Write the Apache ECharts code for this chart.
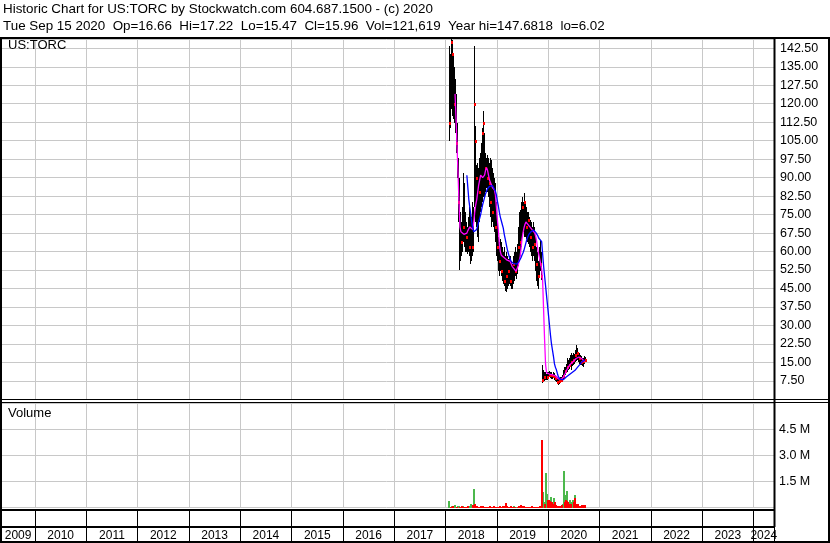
<!DOCTYPE html>
<html>
<head>
<meta charset="utf-8">
<script src="https://cdn.jsdelivr.net/npm/echarts@6/dist/echarts.min.js"></script>
<style>
html,body{margin:0;padding:0;background:#fff;}
#chart{width:830px;height:543px;}
</style>
</head>
<body>
<div id="chart"></div>
<script>
// ---------------- DATA ----------------
const headerLine1 = 'Historic Chart for US:TORC by Stockwatch.com 604.687.1500 - (c) 2020';
const headerLine2 = 'Tue Sep 15 2020  Op=16.66  Hi=17.22  Lo=15.47  Cl=15.96  Vol=121,619  Year hi=147.6818  lo=6.02';
const symbolLabel = 'US:TORC';
const volumeLabel = 'Volume';

// weekly bars, first week ending 2018-01-26
const firstWeek = '2018-01-26';

const weeklyHigh = [
  143.4,140,147.7,146,140,135,130,124,112,98,
  90,76,72,78,92,88,76,72,70,74,
  78,76,74,80,78,143.5,111,95,96,94,
  98,100,104,110,117,108,100,98,99,98,
  95,96,98,97,94,92,90,88,80,72,
  66,64,65,64,62,60,62,58,60,58,
  57,58,58,56,55,58,60,62,60,63,
  70,76,77,80,82,80,83.6,80,78,76,
  76,74,73,72,70,72,70,66,62,60,
  56,62,64.7,60,14,12,11,11,10.5,11.2,
  11,11.5,11,11.2,10.8,10.5,11,10.6,10,9.5,
  9,8.8,8.6,9,9.2,10,12,13.3,13,14.5,
  16.8,16,17,18,18.7,18,19,18.5,20,22,
  21,19,18.7,18,17.5,17,16.7,17.5,17.22
];
const weeklyLow = [
  105,110,118,115,114,112,108,100,90,72,
  52.5,56,58,60,64,62,60,60,59,60,
  58,55,56,58,60,78,72,70,66,64,
  72,76,78,80,82,82,84,86,84,82,
  80,78,74,70,72,70,68,64,58,56,
  52,50,52,50,48,47,46,44,43.5,45,
  46,47,46,45,45,47,48,50,49,51,
  54,56,58,62,66,68,66,66,65,64,
  63,62,60,58,56,58,56,52,48,46,
  45,50,52,48.5,6.8,7,7.5,8,7.8,8,
  8.5,9,8.6,8.8,8.4,8.2,8.5,8,7.5,7,
  6.5,6.02,6.2,6.5,7,7.5,8,9,10,10.6,
  11,12,12.5,13,12,13.5,14,14.5,15,15.5,
  16,15,14.5,14,14,13.5,13.3,14.5,15.47
];
// red close ticks (week index, price)
const closeMarkWeeks = [0,2,3,5,7,9,12,14,17,20,23,25,26,27,30,33,34,36,38,40,42,44,47,49,51,53,56,58,60,62,65,67,70,72,74,76,78,80,82,84,86,88,90,92,93,94,96,99,101,104,106,108,110,112,114,116,118,120,122,124,126,128,130,132,134,136,138];
const closeMarkValues = [112,145,140,120,104,80,64,70,66,62,62,120,105,90,84,108,112,94,90,88,80,76,70,62,56,52,48,50,52,48,55,52,62,64,78,80,70,73,66,62,63,55,50,55,50,8,9,9,10,10,9.5,8.5,7,7.5,8,9.5,11.5,13,14,15,16,18,19,17,15,15.5,15.96];

// short moving average (pink), starts at week 6
const maShort = [
  null,null,null,null,null,null,124,114,103,92,
  80,70,68,67.5,67.5,67,66.5,66.5,67.5,68.5,
  69,70,70,69.5,69,72,76,79,81,84,
  87,89,91,91,90,90,91,93,94,93,
  91,89,88,87,86,85.5,85,83,78,73,
  69,63,60,58.5,58,58,57.5,57,57,56.5,
  56.5,56.5,56,55,54,53.5,53,52.5,52,52.5,
  54,56,57.5,61,65,67.5,69.5,71,72,71.5,
  71,70.5,70,69.5,69,69,68.5,67.5,66,64,
  61,59,57,55,53,48,36,24,14,10.8,
  10.8,10.5,10.3,10.2,10.2,10,10,9.8,9.6,9.3,
  8.8,8.3,7.9,7.9,8.1,8.5,9,9.8,10.5,11.5,
  12.3,13,13.6,14.2,14.6,15,15.3,15.7,16.1,16.6,
  17,17.2,17.2,17,16.8,16.5,16,15.6,15.5
];
// long moving average (blue), starts at week 18
const maLong = [
  null,null,null,null,null,null,null,null,null,null,
  null,null,null,null,null,null,null,null,91,86,
  81,78,75,72,69.5,68,67.5,68,69,70.5,
  72,73.5,75,77,79,80.5,82,83.5,84.5,85.5,
  86,86.5,87,87,86.8,86.5,86,84.5,83,80.5,
  78.5,76,74,72.5,71,69.5,67,65,63,61,
  59.5,58,57,56,55.5,55.2,55,54.8,54.8,55,
  55.5,56,56.6,57.5,58.5,59.4,60.5,62,63.5,65,
  66,67,67.5,68,68.5,68.7,68.7,68.3,67.8,67.3,
  66.5,65.5,65,64.7,64,59,54,50,46,42,
  38,34,30,26,22.5,20,17.5,14.5,13,12,
  10.5,9.2,8.5,8.1,7.9,7.9,8,8.3,8.7,9.1,
  9.4,9.7,10,10.3,10.6,10.9,11.2,11.5,11.8,12.3,
  12.8,13.2,13.6,14.2,14.8,15.2,15.5,15.8,16
];
// weekly volume in millions: up days (green) and down days (red)
const volumeUp = [
  0.40,0.05,0,0.06,0,0.04,0.12,0.05,0,0.06,
  0.08,0,0.05,0,0.06,0,0.04,0,0.05,0,
  0.04,0.07,0.23,0.10,0,1.08,0,0.06,0,0.05,
  0,0.05,0,0.04,0,0,0.05,0,0,0.04,
  0,0.05,0,0,0.04,0,0,0.05,0,0,
  0.04,0,0,0.05,0,0,0.04,0,0,0,
  0,0.04,0,0,0.05,0,0.06,0,0.05,0.04,
  0,0,0.05,0,0,0.08,0,0.05,0,0,
  0.05,0,0,0.05,0,0,0.04,0,0,0.05,
  0,0.05,0,0,0,0.90,0.30,0,2.00,0.80,
  0,0,0,0.30,0.62,0,0.20,0.55,0,0,
  0,0.06,0,0,0.08,0,0.20,2.10,0.70,0.30,
  0.97,0,0.20,0.42,0,0.30,0.45,0,0.71,0,
  0.23,0,0.10,0,0,0,0,0,0
];
const volumeDown = [
  0,0,0.05,0,0.06,0,0,0,0.05,0,
  0,0.05,0,0.06,0,0.05,0,0.05,0,0.06,
  0,0,0,0,0.12,0,0.19,0,0.06,0,
  0.05,0,0.10,0,0.06,0.05,0,0.05,0.05,0,
  0.05,0,0.06,0.05,0,0.05,0.08,0,0.05,0.05,
  0,0.05,0.06,0,0.05,0.06,0,0.10,0.28,0.10,
  0.05,0,0.05,0.06,0,0.05,0,0.05,0,0,
  0.05,0.06,0,0.17,0.08,0,0.06,0,0.05,0.05,
  0,0.05,0.05,0,0.06,0.05,0,0.05,0.05,0,
  0.05,0,0.06,0.08,3.90,0,0,0.20,0,0,
  0.46,0.46,0.35,0,0,0.29,0,0.22,0.29,0.15,
  0.10,0,0.10,0.10,0,0.12,0,0,0.33,0.46,
  0.40,0.30,0,0.23,0.20,0,0,0.30,0.52,0.20,
  0,0.21,0,0.10,0.08,0.17,0.17,0.12,0.12
];

// axes
const xStartYear = 2009;
const xEndYear = 2024.40;
const yearLabelPositions = [2009.67,2010.5,2011.5,2012.5,2013.5,2014.5,2015.5,2016.5,2017.5,2018.5,2019.5,2020.5,2021.5,2022.5,2023.5,2024.2];
const priceMax = 146.27;
const priceStep = 7.5;
const volumeMax = 6.03;   // millions
const volumeStep = 1.5;

// ---------------- BUILD ----------------
function decYear(ms) {
  const d = new Date(ms);
  const y = d.getUTCFullYear();
  const s = Date.UTC(y, 0, 1), e = Date.UTC(y + 1, 0, 1);
  return y + (ms - s) / (e - s);
}
const t0 = Date.parse(firstWeek + 'T12:00:00Z');
const weekX = weeklyHigh.map((_, i) => decYear(t0 + i * 7 * 86400000));

const barData = weekX.map((x, i) => [x, weeklyLow[i], weeklyHigh[i]]);
const closeData = closeMarkWeeks.map((w, k) => [weekX[w], closeMarkValues[k]]);
const maShortData = [], maLongData = [];
weekX.forEach((x, i) => {
  if (maShort[i] != null) maShortData.push([x, maShort[i]]);
  if (maLong[i] != null) maLongData.push([x, maLong[i]]);
});
const volUpData = weekX.map((x, i) => [x, volumeUp[i]]).filter(d => d[1] > 0);
const volDownData = weekX.map((x, i) => [x, volumeDown[i]]).filter(d => d[1] > 0);

const FONT = "'Liberation Sans', Arial, sans-serif";
const GRIDC = '#c8c8c8';
const PLOT_LEFT = -16.32, PLOT_W = 790.32;

function xAxisFor(gridIndex, splitColor, extra) {
  return Object.assign({
    type: 'value', gridIndex, min: xStartYear, max: xEndYear, interval: 1,
    axisLine: {show: false}, axisTick: {show: false}, axisLabel: {show: false},
    splitLine: {show: true, lineStyle: {color: splitColor, width: 1}}
  }, extra || {});
}
function gridAt(top, height) {
  return {left: PLOT_LEFT, width: PLOT_W, top, height, containLabel: false, outerBoundsMode: 'none'};
}

const chart = echarts.init(document.getElementById('chart'), null, {renderer: 'canvas'});
chart.setOption({
  animation: false,
  backgroundColor: '#fff',
  title: [
    {text: headerLine1, left: 3, top: 3, padding: 0, textStyle: {fontFamily: FONT, fontSize: 13.4, fontWeight: 'normal', color: '#000'}},
    {text: headerLine2, left: 3, top: 20, padding: 0, textStyle: {fontFamily: FONT, fontSize: 13.4, fontWeight: 'normal', color: '#000'}},
    {text: symbolLabel, left: 8, top: 39, padding: 0, textStyle: {fontFamily: FONT, fontSize: 13, fontWeight: 'normal', color: '#000'}},
    {text: volumeLabel, left: 8, top: 407, padding: 0, textStyle: {fontFamily: FONT, fontSize: 13, fontWeight: 'normal', color: '#000'}}
  ],
  grid: [
    gridAt(39, 360.4),
    gridAt(403, 104.5),
    gridAt(511, 16),
    gridAt(528, 14)
  ],
  xAxis: [
    xAxisFor(0, GRIDC),
    xAxisFor(1, GRIDC),
    xAxisFor(2, '#000'),
    xAxisFor(3, '#000', {
      position: 'top',
      axisLabel: {
        show: true, inside: true, margin: 7.5, verticalAlign: 'middle',
        customValues: yearLabelPositions,
        formatter: v => String(Math.floor(v)),
        fontFamily: FONT, fontSize: 12, color: '#000'
      }
    })
  ],
  yAxis: [
    {
      type: 'value', gridIndex: 0, position: 'right', min: 0, max: priceMax, interval: priceStep,
      axisLine: {show: false}, axisTick: {show: false},
      splitLine: {show: true, lineStyle: {color: GRIDC}},
      axisLabel: {
        show: true, margin: 6, showMinLabel: false, showMaxLabel: false,
        fontFamily: FONT, fontSize: 12.5, color: '#000',
        formatter: v => (v <= 0 || v > priceMax - 1) ? '' : v.toFixed(2)
      }
    },
    {
      type: 'value', gridIndex: 1, position: 'right', min: 0, max: volumeMax, interval: volumeStep,
      axisLine: {show: false}, axisTick: {show: false},
      splitLine: {show: true, lineStyle: {color: GRIDC}},
      axisLabel: {
        show: true, margin: 5, showMinLabel: false, showMaxLabel: false,
        fontFamily: FONT, fontSize: 12.5, color: '#000',
        formatter: v => (v <= 0 || v > volumeMax - 0.5) ? '' : v.toFixed(1) + ' M'
      }
    },
    {type: 'value', gridIndex: 2, show: false, splitLine: {show: false}},
    {type: 'value', gridIndex: 3, show: false, splitLine: {show: false}}
  ],
  series: [
    {
      type: 'custom', xAxisIndex: 0, yAxisIndex: 0, data: barData,
      encode: {x: 0, y: [1, 2]}, clip: true,
      renderItem: (params, api) => {
        const top = api.coord([api.value(0), api.value(2)]);
        const bot = api.coord([api.value(0), api.value(1)]);
        const px = Math.round(top[0]);
        const y1 = Math.round(top[1]), y2 = Math.round(bot[1]);
        return {type: 'rect', shape: {x: px, y: y1, width: 1, height: Math.max(1, y2 - y1)}, style: {fill: '#000'}};
      }
    },
    {
      type: 'custom', xAxisIndex: 0, yAxisIndex: 0, data: closeData,
      encode: {x: 0, y: 1},
      renderItem: (params, api) => {
        const p = api.coord([api.value(0), api.value(1)]);
        return {type: 'rect', shape: {x: Math.round(p[0]), y: Math.round(p[1]) - 1, width: 2, height: 3}, style: {fill: '#ff0000'}};
      }
    },
    {
      type: 'line', xAxisIndex: 0, yAxisIndex: 0, data: maShortData,
      showSymbol: false, symbol: 'none', lineStyle: {color: '#ff00ff', width: 1.3}, z: 3
    },
    {
      type: 'line', xAxisIndex: 0, yAxisIndex: 0, data: maLongData,
      showSymbol: false, symbol: 'none', lineStyle: {color: '#0000ff', width: 1.3}, z: 4
    },
    {
      type: 'custom', xAxisIndex: 1, yAxisIndex: 1, data: volUpData,
      encode: {x: 0, y: 1},
      renderItem: (params, api) => {
        const p = api.coord([api.value(0), api.value(1)]);
        const b = api.coord([api.value(0), 0]);
        const y1 = Math.round(p[1]), y2 = Math.round(b[1]);
        return {type: 'rect', shape: {x: Math.round(p[0]) - 1, y: y1, width: 2, height: Math.max(1, y2 - y1)}, style: {fill: '#4cb84c'}};
      }
    },
    {
      type: 'custom', xAxisIndex: 1, yAxisIndex: 1, data: volDownData,
      encode: {x: 0, y: 1},
      renderItem: (params, api) => {
        const p = api.coord([api.value(0), api.value(1)]);
        const b = api.coord([api.value(0), 0]);
        const y1 = Math.round(p[1]), y2 = Math.round(b[1]);
        return {type: 'rect', shape: {x: Math.round(p[0]) - 1, y: y1, width: 2, height: Math.max(1, y2 - y1)}, style: {fill: '#ff0000'}};
      }
    }
  ],
  graphic: [
    {type: 'rect', shape: {x: 1, y: 38, width: 828, height: 504}, style: {fill: 'none', stroke: '#000', lineWidth: 2}, z: 100},
    {type: 'line', shape: {x1: 774.5, y1: 38, x2: 774.5, y2: 527}, style: {stroke: '#000', lineWidth: 2}, z: 100},
    {type: 'line', shape: {x1: 0, y1: 399.5, x2: 830, y2: 399.5}, style: {stroke: '#000', lineWidth: 1}, z: 100},
    {type: 'line', shape: {x1: 0, y1: 402.5, x2: 830, y2: 402.5}, style: {stroke: '#000', lineWidth: 1}, z: 100},
    {type: 'line', shape: {x1: 0, y1: 510, x2: 775, y2: 510}, style: {stroke: '#000', lineWidth: 2}, z: 100},
    {type: 'line', shape: {x1: 0, y1: 527, x2: 775, y2: 527}, style: {stroke: '#000', lineWidth: 2}, z: 100}
  ]
});
</script>
</body>
</html>
